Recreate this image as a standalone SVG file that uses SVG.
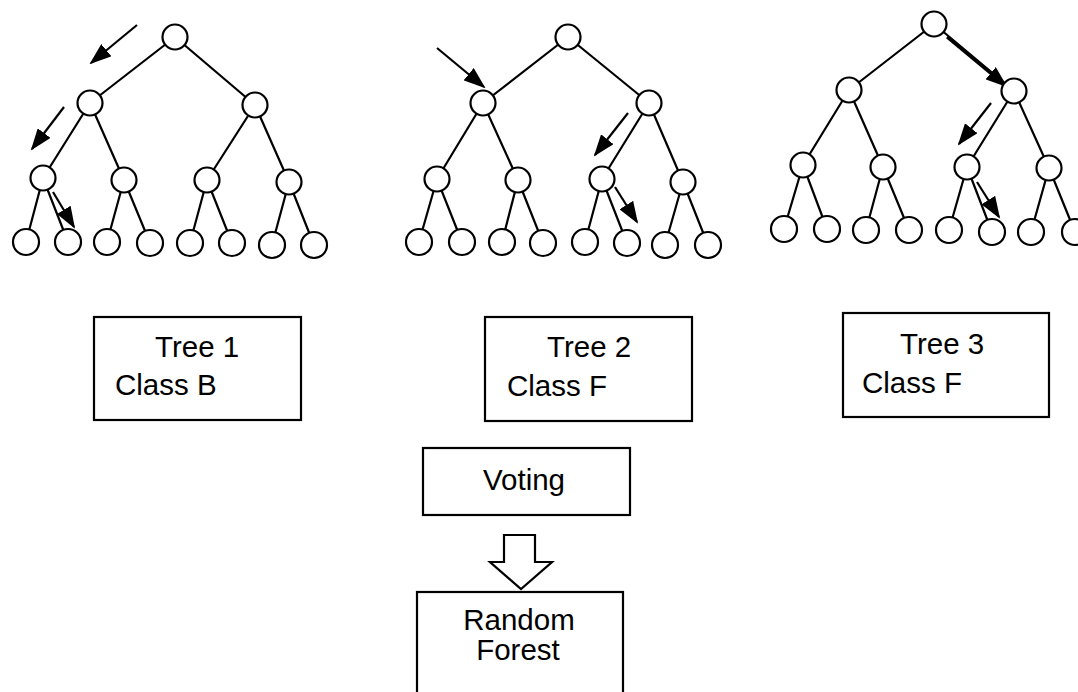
<svg xmlns="http://www.w3.org/2000/svg" width="1078" height="692" viewBox="0 0 1078 692">
<style>
.n{fill:#fff;stroke:#000;stroke-width:2.2}
.e{stroke:#000;stroke-width:2.2;fill:none}
.a{stroke:#000;stroke-width:2.2;fill:none;marker-end:url(#ah)}
.b{fill:#fff;stroke:#000;stroke-width:2.2}
.t{font-family:"Liberation Sans",Arial,sans-serif;font-size:29.5px;fill:#000}
</style>
<defs>
<marker id="ah" markerUnits="userSpaceOnUse" markerWidth="22" markerHeight="16" refX="20" refY="8" orient="auto">
<path d="M0,0 L22,8 L0,16 z" fill="#000"/>
</marker>
</defs>
<rect width="1078" height="692" fill="#fff"/>
<g id="connectors">
<path class="e" d="M175,37L90,103M175,37L255,105M90,103L43,178M90,103L124,180M255,105L207,180M255,105L289,182M43,178L26,242M43,178L68,242M124,180L107,242M124,180L150,243M207,180L190,243M207,180L232,243M289,182L272,245M289,182L314,245"/>
<path class="e" d="M568,37L483,103M568,37L649,103M483,103L437,179M483,103L518,180M649,103L602,179M649,103L683,182M437,179L419,242M437,179L462,242M518,180L502,242M518,180L543,243M602,179L585,242M602,179L627,243M683,182L665,245M683,182L708,245"/>
<path class="e" d="M934,24L849,90M934,24L1014,91M849,90L803,165M849,90L883,167M1014,91L967,167M1014,91L1049,168M803,165L784,229M803,165L827,229M883,167L866,230M883,167L909,230M967,167L949,230M967,167L992,232M1049,168L1031,232M1049,168L1075,232"/>
<line class="a" x1="137" y1="25" x2="91" y2="63"/>
<line class="a" x1="64" y1="107" x2="32" y2="149"/>
<line class="a" x1="53" y1="192" x2="74" y2="227"/>
<line class="a" x1="437" y1="48" x2="484" y2="87"/>
<line class="a" x1="628" y1="113" x2="595" y2="155"/>
<line class="a" x1="615" y1="187" x2="637" y2="222"/>
<line class="a" x1="947" y1="37" x2="1006" y2="86" style="stroke-width:3"/>
<line class="a" x1="991" y1="103" x2="959" y2="144"/>
<line class="a" x1="977" y1="182" x2="999" y2="217"/>
<polygon class="b" points="504,535 535,535 535,562 552,562 521,589 490,562 504,562"/>
</g>
<g id="tree1">
<circle class="n" cx="175" cy="37" r="12.5"/>
<circle class="n" cx="90" cy="103" r="12.5"/><circle class="n" cx="255" cy="105" r="12.5"/>
<circle class="n" cx="43" cy="178" r="12.5"/><circle class="n" cx="124" cy="180" r="12.5"/><circle class="n" cx="207" cy="180" r="12.5"/><circle class="n" cx="289" cy="182" r="12.5"/>
<circle class="n" cx="26" cy="242" r="13"/><circle class="n" cx="68" cy="242" r="13"/><circle class="n" cx="107" cy="242" r="13"/><circle class="n" cx="150" cy="243" r="13"/><circle class="n" cx="190" cy="243" r="13"/><circle class="n" cx="232" cy="243" r="13"/><circle class="n" cx="272" cy="245" r="13"/><circle class="n" cx="314" cy="245" r="13"/>
</g>
<g id="tree2">
<circle class="n" cx="568" cy="37" r="12.5"/>
<circle class="n" cx="483" cy="103" r="12.5"/><circle class="n" cx="649" cy="103" r="12.5"/>
<circle class="n" cx="437" cy="179" r="12.5"/><circle class="n" cx="518" cy="180" r="12.5"/><circle class="n" cx="602" cy="179" r="12.5"/><circle class="n" cx="683" cy="182" r="12.5"/>
<circle class="n" cx="419" cy="242" r="13"/><circle class="n" cx="462" cy="242" r="13"/><circle class="n" cx="502" cy="242" r="13"/><circle class="n" cx="543" cy="243" r="13"/><circle class="n" cx="585" cy="242" r="13"/><circle class="n" cx="627" cy="243" r="13"/><circle class="n" cx="665" cy="245" r="13"/><circle class="n" cx="708" cy="245" r="13"/>
</g>
<g id="tree3">
<circle class="n" cx="934" cy="24" r="12.5"/>
<circle class="n" cx="849" cy="90" r="12.5"/><circle class="n" cx="1014" cy="91" r="12.5"/>
<circle class="n" cx="803" cy="165" r="12.5"/><circle class="n" cx="883" cy="167" r="12.5"/><circle class="n" cx="967" cy="167" r="12.5"/><circle class="n" cx="1049" cy="168" r="12.5"/>
<circle class="n" cx="784" cy="229" r="13"/><circle class="n" cx="827" cy="229" r="13"/><circle class="n" cx="866" cy="230" r="13"/><circle class="n" cx="909" cy="230" r="13"/><circle class="n" cx="949" cy="230" r="13"/><circle class="n" cx="992" cy="232" r="13"/><circle class="n" cx="1031" cy="232" r="13"/><circle class="n" cx="1075" cy="232" r="13"/>
</g>
<g id="tree1-box">
<rect class="b" x="94" y="317" width="207" height="103"/>
<text class="t" x="155" y="357">Tree 1</text>
<text class="t" x="115" y="395">Class B</text>
</g>
<g id="tree2-box">
<rect class="b" x="485" y="317" width="207" height="104"/>
<text class="t" x="547" y="357">Tree 2</text>
<text class="t" x="507" y="396">Class F</text>
</g>
<g id="tree3-box">
<rect class="b" x="843" y="313" width="206" height="104"/>
<text class="t" x="900" y="354">Tree 3</text>
<text class="t" x="862" y="393">Class F</text>
</g>
<g id="voting">
<rect class="b" x="423" y="448" width="207" height="67"/>
<text class="t" x="524" y="490" text-anchor="middle">Voting</text>
</g>
<g id="random-forest">
<rect class="b" x="417" y="592" width="206" height="120"/>
<text class="t" x="519" y="630" text-anchor="middle">Random</text>
<text class="t" x="518" y="660" text-anchor="middle">Forest</text>
</g>
</svg>
